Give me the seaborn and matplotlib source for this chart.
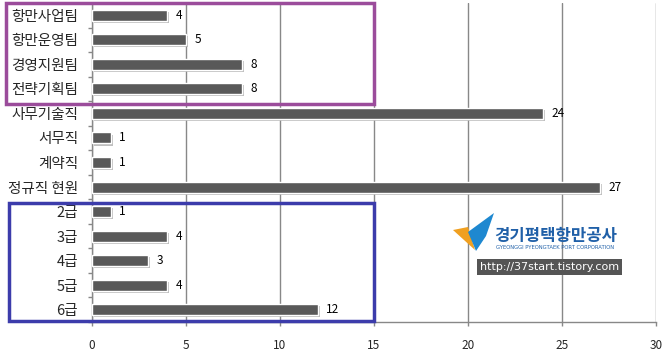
import matplotlib
matplotlib.use("Agg")
import matplotlib.pyplot as plt
import matplotlib.patheffects as pe
from matplotlib.patches import Rectangle, Polygon
import seaborn as sns
import pandas as pd
import numpy as np

categories = ["항만사업팀", "항만운영팀", "경영지원팀", "전략기획팀", "사무기술직", "서무직", "계약직",
              "정규직 현원", "2급", "3급", "4급", "5급", "6급"]
values = [4, 5, 8, 8, 24, 1, 1, 27, 1, 4, 3, 4, 12]
xticks = [0, 5, 10, 15, 20, 25, 30]

sns.set_theme(style="white")
plt.rcParams['font.family'] = ['Noto Sans CJK KR', 'DejaVu Sans']

df = pd.DataFrame({"cat": categories, "val": values})

W, H = 667, 355
fig = plt.figure(figsize=(W / 100, H / 100), dpi=100)
ax = fig.add_axes([92 / W, (H - 322) / H, (656 - 92) / W, (322 - 3) / H])

sns.barplot(data=df, y="cat", x="val", orient="h", color="#595959", width=0.45,
            edgecolor="white", linewidth=1.0, saturation=1, ax=ax)
for p in ax.patches:
    p.set_path_effects([pe.SimplePatchShadow(offset=(1.5, -1.5), shadow_rgbFace="#b0b0b0", alpha=0.8),
                        pe.Normal()])
    p.set_zorder(3)

for i, v in enumerate(values):
    ax.text(v + 0.45, i, str(v), va="center", ha="left", fontsize=8.5, color="black",
            family=['Noto Sans CJK KR', 'DejaVu Sans'])

ax.set_xlim(0, 30)
ax.set_ylim(12.5, -0.5)
ax.set_xticks(xticks)
ax.set_xticklabels([str(t) for t in xticks], fontsize=8.5)
ax.set_xlabel("")
ax.set_ylabel("")
ax.set_yticks(range(len(categories)))
ax.set_yticklabels(categories, fontsize=10.5)
ax.set_yticks(np.arange(-0.5, 12.6, 1.0), minor=True)
ax.tick_params(axis="y", which="major", length=0, pad=10)
ax.tick_params(axis="y", which="minor", length=3, color="#888888", width=1, left=True)
ax.tick_params(axis="x", which="major", length=3, color="#888888", width=1, bottom=True, pad=9)
ax.grid(axis="x", color="#888888", linewidth=1)
ax.set_axisbelow(True)
for s in ["top", "right"]:
    ax.spines[s].set_visible(False)
for s in ["left", "bottom"]:
    ax.spines[s].set_color("#888888")
    ax.spines[s].set_linewidth(1)

# highlight boxes (figure pixel coords)
def px_rect(x0, y0, x1, y1, color):
    r = Rectangle((x0 / W, 1 - y1 / H), (x1 - x0) / W, (y1 - y0) / H, transform=fig.transFigure,
                  fill=False, edgecolor=color, linewidth=2.5, zorder=10)
    fig.add_artist(r)

px_rect(6, 3, 374, 104, "#9b4c9b")
px_rect(9, 203, 374, 321, "#3c3cab")

# logo
fig.add_artist(Polygon([(453 / W, 1 - 230 / H), (468 / W, 1 - 227 / H), (475 / W, 1 - 250 / H)],
                       closed=True, transform=fig.transFigure, facecolor="#f0a020", edgecolor="none", zorder=11))
fig.add_artist(Polygon([(468 / W, 1 - 232 / H), (494 / W, 1 - 213 / H), (486 / W, 1 - 236 / H), (476 / W, 1 - 251 / H)],
                       closed=True, transform=fig.transFigure, facecolor="#1e88d0", edgecolor="none", zorder=11))
fig.text(494 / W, 1 - 236 / H, "경기평택항만공사", fontsize=12, fontweight="bold", color="#2060a8",
         va="center", ha="left", zorder=12)
fig.text(496 / W, 1 - 247.5 / H, "GYEONGGI PYEONGTAEK PORT CORPORATION", fontsize=3.8, color="#2060a8",
         va="center", ha="left", zorder=12, family="DejaVu Sans")
fig.text(480 / W, 1 - 267 / H, "http://37start.tistory.com", fontsize=8, color="white",
         va="center", ha="left", zorder=12, family="DejaVu Sans",
         bbox=dict(boxstyle="square,pad=0.3", facecolor="#555555", edgecolor="none"))

fig.savefig("out.png", dpi=100)
